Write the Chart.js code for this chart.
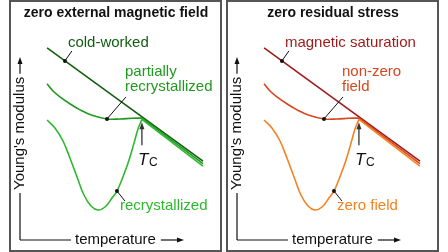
<!DOCTYPE html>
<html>
<head>
<meta charset="utf-8">
<script src="https://cdn.jsdelivr.net/npm/chart.js@4.4.1/dist/chart.umd.min.js"></script>
<style>
  body { margin: 0; background: #fff; width: 448px; height: 252px; position: relative; overflow: hidden; }
  .panel { position: absolute; top: 0; width: 213px; height: 252px; box-sizing: border-box; border: 2px solid #555; }
  #left { left: 9px; }
  #right { left: 226px; }
  canvas { display: block; }
</style>
</head>
<body>
<div class="panel" id="left"><canvas id="chartL" width="209" height="248" style="width:209px;height:248px"></canvas></div>
<div class="panel" id="right"><canvas id="chartR" width="209" height="248" style="width:209px;height:248px"></canvas></div>
<script>
// temperature / modulus in arbitrary units (0-100), same curve shapes in both panels
const Tc = 63.5;

// straight line (cold-worked / magnetic saturation)
const straightT = [14.1, 95.3];
const straightE = [91.4, 37.5];

// middle curve below Tc (partially recrystallized / non-zero field)
const midT = [14.1, 17.2, 20.8, 26.0, 31.3, 37.5, 45.3, 52.1, 58.3, 63.5];
const midE = [74.3, 70.9, 68.1, 64.8, 61.9, 59.3, 57.6, 57.6, 57.9, 58.0];

// lower curve below Tc (recrystallized / zero field)
const lowT = [14.1, 18.2, 22.4, 26.0, 29.7, 33.3, 37.0, 40.6, 44.3, 47.9, 50.5, 53.6, 56.8, 59.4, 61.5, 63.5];
const lowE = [57.1, 53.3, 47.1, 39.0, 30.0, 21.4, 16.2, 14.3, 15.7, 20.0, 23.3, 30.0, 38.1, 46.2, 52.9, 57.4];

// above Tc the curves run together
const aboveT = [63.5, 95.3];
const midAboveE = [58.0, 36.3];
const lowAboveE = [57.4, 35.1];

// where the label pointers touch the curves
const dotStraight = [23.4, 85.2];
const dotMid = [45.3, 57.6];
const dotLow = [50.5, 23.3];

const titles = ["zero external magnetic field", "zero residual stress"];
const labelsL = ["cold-worked", ["partially", "recrystallized"], "recrystallized"];
const labelsR = ["magnetic saturation", ["non-zero", "field"], "zero field"];
const colorsL = ["#115e11", "#1f9a1f", "#2db82d"];
const colorsR = ["#9e1a1a", "#d8461c", "#f58220"];

function pts(xs, ys) {
  return xs.map((v, i) => ({ x: v, y: ys[i] }));
}

function arrowHead(ctx, x, y, dir) {
  // dir: 'up' or 'right'
  ctx.beginPath();
  if (dir === 'up') {
    ctx.moveTo(x, y); ctx.lineTo(x - 2.5, y + 7); ctx.lineTo(x + 2.5, y + 7);
  } else {
    ctx.moveTo(x, y); ctx.lineTo(x - 7, y - 2.5); ctx.lineTo(x - 7, y + 2.5);
  }
  ctx.closePath();
  ctx.fill();
}

const sketchPlugin = {
  id: 'sketch',
  afterDatasetsDraw(chart, args, opts) {
    const ctx = chart.ctx;
    const xs = chart.scales.x, ys = chart.scales.y;
    const a = chart.chartArea;
    ctx.save();
    ctx.strokeStyle = '#111';
    ctx.fillStyle = '#111';
    ctx.lineWidth = 1.2;
    ctx.font = '15px Arial';

    // x axis: line, label, arrow
    const yb = a.bottom;
    ctx.beginPath(); ctx.moveTo(a.left, yb); ctx.lineTo(a.left + 51, yb); ctx.stroke();
    ctx.textBaseline = 'middle'; ctx.textAlign = 'left';
    ctx.fillText('temperature', a.left + 55, yb);
    const xw = ctx.measureText('temperature').width;
    const xs0 = a.left + 55 + xw + 5;
    ctx.beginPath(); ctx.moveTo(xs0, yb); ctx.lineTo(a.left + 160, yb); ctx.stroke();
    arrowHead(ctx, a.left + 164, yb, 'right');

    // y axis: line, rotated label, arrow
    ctx.beginPath(); ctx.moveTo(a.left, yb); ctx.lineTo(a.left, yb - 47); ctx.stroke();
    ctx.save();
    ctx.translate(a.left, yb - 50);
    ctx.rotate(-Math.PI / 2);
    ctx.fillText("Young's modulus", 0, 0);
    ctx.restore();
    const yw = ctx.measureText("Young's modulus").width;
    const ys0 = yb - 50 - yw - 3;
    ctx.beginPath(); ctx.moveTo(a.left, ys0); ctx.lineTo(a.left, yb - 178); ctx.stroke();
    arrowHead(ctx, a.left, yb - 183, 'up');

    // label pointers
    opts.notes.forEach(n => {
      const px = xs.getPixelForValue(n.at[0]);
      const py = ys.getPixelForValue(n.at[1]);
      ctx.strokeStyle = '#111';
      ctx.lineWidth = 1;
      ctx.beginPath(); ctx.moveTo(px, py); ctx.lineTo(px + n.tip[0], py + n.tip[1]); ctx.stroke();
      ctx.fillStyle = '#111';
      ctx.beginPath(); ctx.arc(px, py, 2, 0, Math.PI * 2); ctx.fill();
      ctx.fillStyle = n.color;
      ctx.font = '15px Arial';
      ctx.textBaseline = 'middle';
      const lines = Array.isArray(n.text) ? n.text : [n.text];
      lines.forEach((s, i) => ctx.fillText(s, px + n.off[0], py + n.off[1] + i * 15));
    });

    // Tc marker
    const tx = xs.getPixelForValue(Tc);
    const ty = ys.getPixelForValue(lowAboveE[0]);
    ctx.strokeStyle = '#333';
    ctx.fillStyle = '#333';
    ctx.lineWidth = 1.3;
    ctx.beginPath(); ctx.moveTo(tx, ty + 26); ctx.lineTo(tx, ty + 8); ctx.stroke();
    arrowHead(ctx, tx, ty + 3, 'up');
    ctx.fillStyle = '#111';
    ctx.textBaseline = 'alphabetic';
    ctx.font = 'italic 17px Arial';
    ctx.fillText('T', tx - 4, ty + 46);
    ctx.font = '12px Arial';
    ctx.fillText('C', tx + 7, ty + 47);
    ctx.restore();
  }
};

function buildPanel(id, title, labels, colors) {
  const line = (data, color, tension) => ({
    data: data,
    borderColor: color,
    borderWidth: 1.6,
    pointRadius: 0,
    tension: tension,
    fill: false
  });
  return new Chart(document.getElementById(id), {
    type: 'line',
    data: {
      datasets: [
        line(pts(lowT, lowE), colors[2], 0.4),
        line(pts(aboveT, lowAboveE), colors[2], 0),
        line(pts(midT, midE), colors[1], 0.4),
        line(pts(aboveT, midAboveE), colors[1], 0),
        line(pts(straightT, straightE), colors[0], 0)
      ]
    },
    options: {
      responsive: false,
      animation: false,
      events: [],
      layout: { padding: { left: 9, right: 8, top: 0, bottom: 10 } },
      scales: {
        x: { type: 'linear', min: 0, max: 100, display: false },
        y: { type: 'linear', min: 0, max: 100, display: false }
      },
      plugins: {
        legend: { display: false },
        tooltip: { enabled: false },
        title: {
          display: true,
          text: title,
          color: '#111',
          font: { family: 'Arial', size: 14, weight: 'bold' },
          padding: { top: 3, bottom: 8 }
        },
        sketch: {
          notes: [
            { at: dotStraight, tip: [7, -10], off: [3, -18], text: labels[0], color: colors[0] },
            { at: dotMid, tip: [19, -22], off: [18, -47], text: labels[1], color: colors[1] },
            { at: dotLow, tip: [8, 10], off: [3, 15], text: labels[2], color: colors[2] }
          ]
        }
      }
    },
    plugins: [sketchPlugin]
  });
}

buildPanel('chartL', titles[0], labelsL, colorsL);
buildPanel('chartR', titles[1], labelsR, colorsR);
</script>
</body>
</html>
